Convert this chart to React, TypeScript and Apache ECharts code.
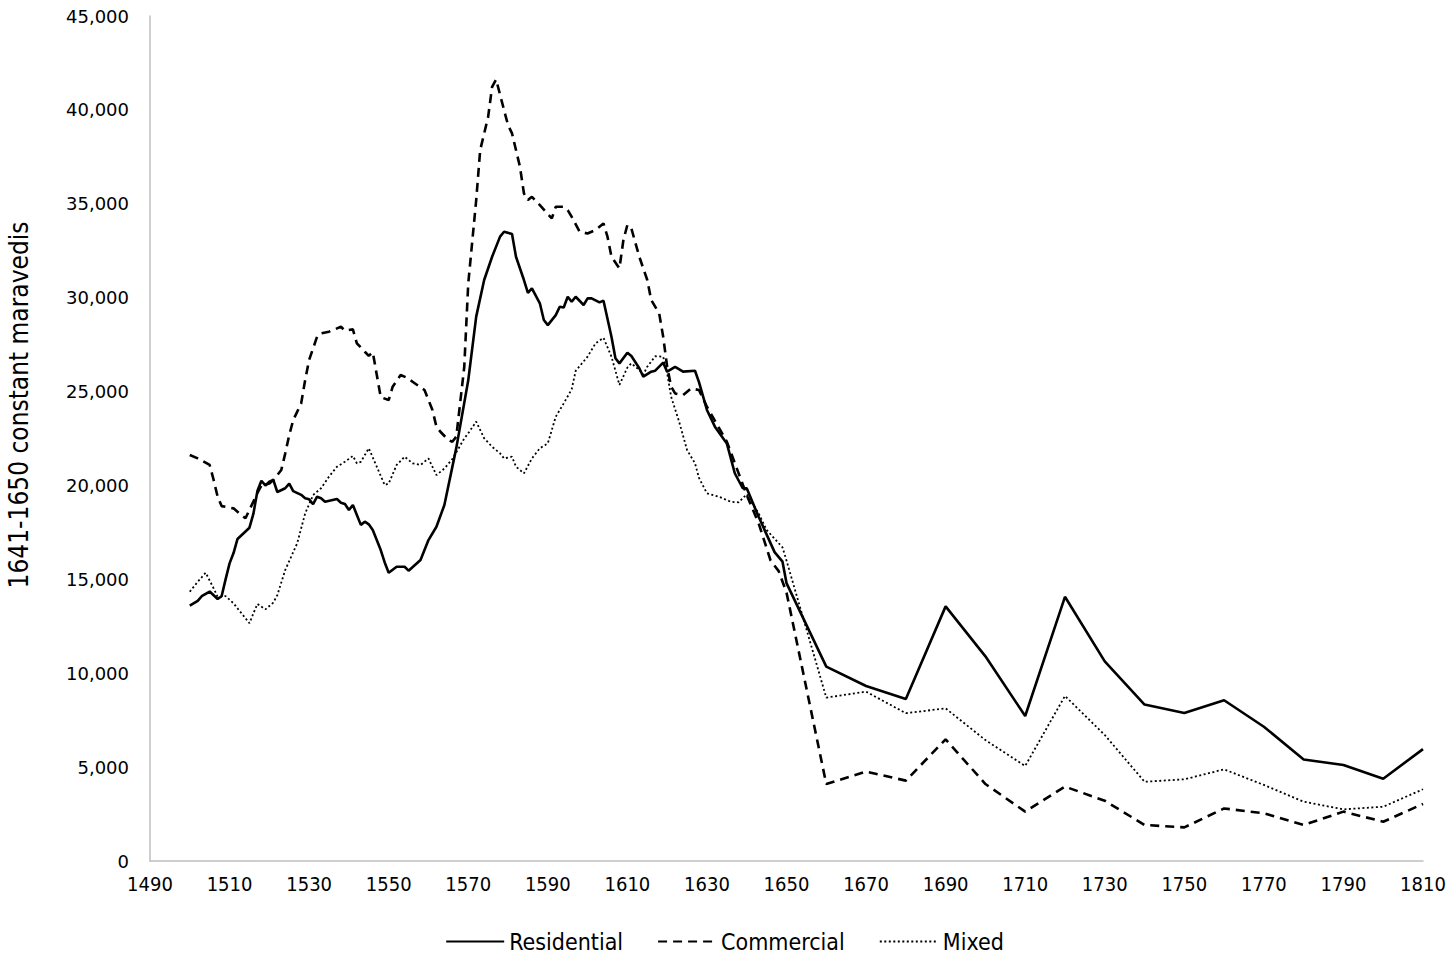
import React, { useEffect, useRef } from "react";
import * as echarts from "echarts";

// Annual readings (year, value) 1500-1650
const residentialAnnual: [number, number][] = [
  [1500, 13600], [1502, 13850], [1503, 14100], [1505, 14350], [1507, 13950], [1508, 14100],
  [1509, 15000], [1510, 15850], [1511, 16400], [1512, 17150], [1514, 17550], [1515, 17750],
  [1516, 18500], [1517, 19700], [1518, 20250], [1519, 20000], [1520, 20200], [1521, 20300],
  [1522, 19650], [1524, 19850], [1525, 20100], [1526, 19700], [1528, 19500], [1529, 19320],
  [1530, 19260], [1531, 19000], [1532, 19400], [1533, 19320], [1534, 19130], [1537, 19280],
  [1538, 19080], [1539, 19010], [1540, 18690], [1541, 18960], [1542, 18430], [1543, 17900],
  [1544, 18070], [1545, 17930], [1546, 17630], [1548, 16560], [1549, 15900], [1550, 15350],
  [1552, 15670], [1554, 15670], [1555, 15460], [1558, 16030], [1560, 17090], [1562, 17800],
  [1564, 18960], [1567, 22000], [1570, 25600], [1572, 28990], [1574, 30940], [1576, 32180],
  [1578, 33250], [1579, 33510], [1581, 33390], [1582, 32180], [1584, 30940], [1585, 30260],
  [1586, 30500], [1588, 29700], [1589, 28810], [1590, 28540], [1592, 29070], [1593, 29520],
  [1594, 29480], [1595, 30050], [1596, 29780], [1597, 30050], [1599, 29610], [1600, 29960],
  [1601, 29960], [1603, 29750], [1604, 29840], [1606, 27920], [1607, 26770], [1608, 26500],
  [1610, 27070], [1611, 26890], [1613, 26240], [1614, 25790], [1616, 26060], [1617, 26110],
  [1619, 26540], [1620, 26060], [1622, 26320], [1624, 26060], [1627, 26110], [1628, 25500],
  [1630, 24020], [1632, 23130], [1635, 22240], [1637, 20650], [1639, 19850], [1640, 19850],
  [1643, 18330], [1647, 16450], [1649, 15940], [1650, 14800],
];

const commercialAnnual: [number, number][] = [
  [1500, 21620], [1502, 21440], [1505, 21090], [1506, 20290], [1507, 19400], [1508, 18900],
  [1511, 18780], [1512, 18600], [1514, 18250], [1517, 19600], [1518, 20000], [1520, 20100],
  [1521, 20290], [1523, 20820], [1524, 21710], [1525, 22680], [1526, 23480], [1528, 24370],
  [1529, 25610], [1530, 26680], [1532, 27920], [1533, 28100], [1535, 28190], [1538, 28450],
  [1539, 28240], [1541, 28310], [1542, 27570], [1544, 27120], [1545, 26900], [1546, 27100],
  [1547, 25900], [1548, 24700], [1550, 24550], [1551, 25260], [1553, 25880], [1555, 25700],
  [1556, 25520], [1559, 25080], [1561, 24020], [1562, 23130], [1563, 22860], [1565, 22420],
  [1566, 22330], [1567, 22600], [1569, 26320], [1570, 30760], [1572, 35200], [1573, 37860],
  [1575, 39630], [1576, 41230], [1577, 41620], [1579, 39990], [1580, 39190], [1581, 38750],
  [1583, 36970], [1584, 35550], [1585, 35200], [1586, 35370], [1588, 34930], [1591, 34220],
  [1592, 34840], [1594, 34840], [1595, 34660], [1596, 34310], [1598, 33510], [1600, 33420],
  [1602, 33600], [1604, 33950], [1605, 33250], [1606, 32180], [1608, 31560], [1609, 33070],
  [1610, 33870], [1611, 33690], [1613, 32180], [1615, 30940], [1616, 29870], [1618, 29160],
  [1619, 27920], [1620, 26320], [1621, 25260], [1622, 24900], [1624, 24810], [1626, 25170],
  [1628, 25080], [1630, 24190], [1635, 22330], [1640, 19490], [1643, 17980], [1646, 16000],
  [1648, 15450], [1650, 14300],
];

const mixedAnnual: [number, number][] = [
  [1500, 14340], [1502, 14870], [1504, 15350], [1506, 14520], [1507, 14070], [1509, 14110],
  [1511, 13720], [1513, 13190], [1515, 12660], [1516, 13190], [1517, 13690], [1519, 13400],
  [1521, 13760], [1522, 14160], [1524, 15500], [1527, 16920], [1529, 18510], [1531, 19490],
  [1533, 19850], [1535, 20470], [1537, 21000], [1539, 21260], [1541, 21570], [1542, 21180],
  [1543, 21260], [1545, 21980], [1547, 21000], [1549, 20020], [1550, 20100], [1552, 21090],
  [1554, 21530], [1556, 21180], [1558, 21090], [1560, 21440], [1562, 20550], [1564, 20900],
  [1566, 21400], [1569, 22500], [1570, 22780], [1572, 23400], [1574, 22510], [1576, 22060],
  [1578, 21710], [1579, 21440], [1581, 21530], [1582, 21000], [1584, 20640], [1586, 21440],
  [1588, 21980], [1590, 22240], [1592, 23660], [1594, 24370], [1596, 25120], [1597, 26100],
  [1600, 26860], [1602, 27570], [1604, 27860], [1606, 26860], [1608, 25350], [1610, 26280],
  [1611, 26500], [1613, 26150], [1614, 25900], [1615, 26320], [1617, 26880], [1619, 26860],
  [1620, 25970], [1621, 24720], [1623, 23400], [1625, 21890], [1627, 21180], [1628, 20400],
  [1630, 19580], [1633, 19400], [1636, 19130], [1638, 19100], [1640, 19530], [1643, 18510],
  [1645, 17630], [1649, 16700], [1650, 16000],
];

// Decadal readings 1660-1810
const decadeYears = [1660, 1670, 1680, 1690, 1700, 1710, 1720, 1730, 1740, 1750, 1760, 1770, 1780, 1790, 1800, 1810];
const residentialDecadal = [10350, 9320, 8630, 13560, 10900, 7720, 14070, 10630, 8330, 7880, 8560, 7150, 5410, 5110, 4380, 5960];
const commercialDecadal = [4100, 4760, 4280, 6480, 4100, 2630, 3960, 3210, 1920, 1790, 2800, 2540, 1920, 2630, 2090, 3040];
const mixedDecadal = [8700, 9020, 7870, 8130, 6440, 5060, 8790, 6710, 4220, 4350, 4880, 4050, 3160, 2750, 2890, 3820];

const seriesNames = ["Residential", "Commercial", "Mixed"];
const yTitle = "1641-1650 constant maravedis";

function join(annual: [number, number][], decadal: number[]): [number, number][] {
  return annual.concat(decadeYears.map((y, i) => [y, decadal[i]] as [number, number]));
}

export default function App() {
  const ref = useRef<HTMLDivElement>(null);
  useEffect(() => {
    if (!ref.current) return;
    const chart = echarts.init(ref.current, null, { renderer: "svg" });
    const narrow = "'DejaVu Sans Condensed', 'Liberation Sans Narrow', sans-serif";
    chart.setOption({
      animation: false,
      backgroundColor: "#ffffff",
      grid: { left: 150, right: 26, top: 16, bottom: 92, containLabel: false },
      graphic: [
        {
          type: "text",
          x: 19,
          y: 405,
          rotation: Math.PI / 2,
          style: {
            text: yTitle,
            font: "26px 'DejaVu Sans Condensed', sans-serif",
            fill: "#000",
            align: "center",
            verticalAlign: "middle",
          },
        },
      ],
      legend: {
        top: 925,
        left: "center",
        itemWidth: 58,
        itemHeight: 14,
        itemGap: 34,
        itemStyle: { opacity: 0 },
        textStyle: { fontFamily: narrow, fontSize: 23, color: "#000" },
        data: seriesNames,
      },
      xAxis: {
        type: "value",
        min: 1490,
        max: 1810,
        interval: 20,
        axisLine: { show: true, lineStyle: { color: "#bfbfbf", width: 1.5 } },
        axisTick: { show: false },
        splitLine: { show: false },
        axisLabel: { margin: 13, fontFamily: narrow, fontSize: 20, color: "#000", formatter: (v: number) => String(v) },
      },
      yAxis: {
        type: "value",
        min: 0,
        max: 45000,
        interval: 5000,
        axisLine: { show: true, lineStyle: { color: "#bfbfbf", width: 1.5 } },
        axisTick: { show: false },
        splitLine: { show: false },
        axisLabel: {
          margin: 21,
          fontFamily: "'DejaVu Sans', sans-serif",
          fontSize: 18,
          color: "#000",
          formatter: (v: number) => v.toLocaleString("en-US"),
        },
      },
      series: [
        {
          name: seriesNames[0], type: "line", symbol: "none",
          lineStyle: { color: "#000", width: 2.6, type: "solid" },
          itemStyle: { color: "#000" },
          data: join(residentialAnnual, residentialDecadal),
        },
        {
          name: seriesNames[1], type: "line", symbol: "none",
          lineStyle: { color: "#000", width: 2.6, type: [9, 6] },
          itemStyle: { color: "#000" },
          data: join(commercialAnnual, commercialDecadal),
        },
        {
          name: seriesNames[2], type: "line", symbol: "none",
          lineStyle: { color: "#000", width: 1.8, type: [2, 2.5] },
          itemStyle: { color: "#000" },
          data: join(mixedAnnual, mixedDecadal),
        },
      ],
    });
    return () => chart.dispose();
  }, []);
  return <div ref={ref} style={{ position: "fixed", left: 0, top: 0, width: 1449, height: 953, background: "#fff" }} />;
}
